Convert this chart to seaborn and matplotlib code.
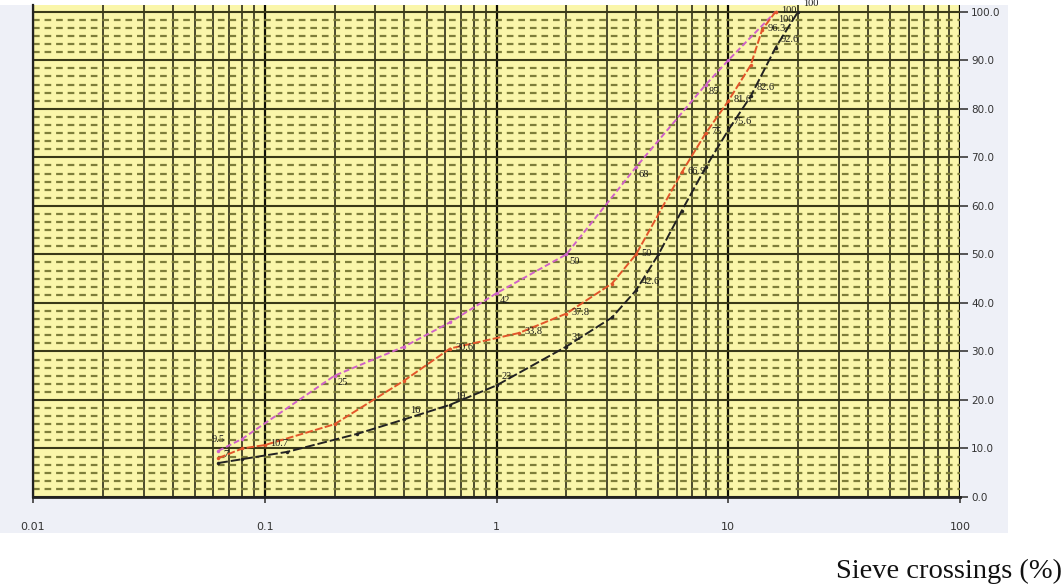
import numpy as np
import pandas as pd
import matplotlib
matplotlib.use("Agg")
import matplotlib.pyplot as plt
import seaborn as sns
from matplotlib.patches import Rectangle
from matplotlib.ticker import FixedLocator, NullFormatter, LogLocator

# Grain-size distribution: sieve opening (mm) vs. percent passing
sieve_pink = [0.063, 0.08, 0.2, 0.4, 0.63, 1.0, 2.0, 4.0, 8.0, 10.0, 16.0]
pass_pink = [9.5, 12.0, 25.0, 31.0, 36.0, 42.0, 50.0, 68.0, 85.0, 90.0, 100.0]
labeled_pink = [0.063, 0.2, 1.0, 2.0, 4.0, 8.0, 16.0]

sieve_orange = [0.063, 0.08, 0.1, 0.2, 0.4, 0.63, 1.25, 2.0, 3.15, 4.0, 6.3, 8.0, 10.0, 12.5, 14.0, 16.0]
pass_orange = [8.0, 10.0, 10.7, 15.0, 24.0, 30.6, 33.8, 37.8, 44.0, 50.0, 66.9, 75.0, 81.6, 89.0, 96.3, 100.0]
labeled_orange = [0.1, 0.63, 1.25, 2.0, 4.0, 6.3, 8.0, 10.0, 14.0, 16.0]

sieve_black = [0.063, 0.08, 0.125, 0.25, 0.4, 0.63, 1.0, 2.0, 3.15, 4.0, 5.0, 6.3, 8.0, 10.0, 12.5, 16.0, 20.0]
pass_black = [7.0, 7.8, 9.3, 13.0, 16.0, 19.0, 23.0, 31.0, 37.0, 42.6, 50.0, 59.0, 68.0, 75.6, 82.6, 92.6, 100.0]
labeled_black = [0.063, 0.4, 0.63, 1.0, 2.0, 4.0, 10.0, 12.5, 16.0, 20.0]

x_ticks = [0.01, 0.1, 1, 10, 100]
x_tick_labels = ["0.01", "0.1", "1", "10", "100"]
y_ticks = list(range(0, 101, 10))

df = pd.concat([
    pd.DataFrame({"sieve": sieve_pink, "passing": pass_pink, "sample": "A"}),
    pd.DataFrame({"sieve": sieve_orange, "passing": pass_orange, "sample": "B"}),
    pd.DataFrame({"sieve": sieve_black, "passing": pass_black, "sample": "C"}),
], ignore_index=True)

palette = {"A": "#d062c8", "B": "#e2552a", "C": "#222222"}

sns.set_theme(style="white")
plt.rcParams["font.family"] = ["DejaVu Sans"]

W, H = 1064, 587
fig = plt.figure(figsize=(W / 100, H / 100), dpi=100)
fig.patch.set_facecolor("white")
fig.patches.append(Rectangle((0, 1 - 533 / H), 1008 / W, (533 - 5) / H,
                             transform=fig.transFigure, facecolor="#eef0f7",
                             edgecolor="none", zorder=-10))

ax = fig.add_axes([33 / W, 1 - 497 / H, (960 - 33) / W, (497 - 5) / H])
ax.set_zorder(5)
ax.set_facecolor("#faf6aa")
ax.set_xscale("log")
ax.set_xlim(0.01, 100)
ax.set_ylim(0, 101.4)

# dense graph-paper style grid
ax.yaxis.set_minor_locator(FixedLocator([v for v in np.arange(0, 101.4, 10 / 6)
                                         if abs(v / 10 - round(v / 10)) > 1e-6]))
ax.grid(which="minor", axis="y", color="#7e7e3a", lw=1.6, linestyle=(0, (3.0, 2.2)), zorder=0.5)
ax.grid(which="major", axis="y", color="#3a3a18", lw=1.5, zorder=0.6)
ax.xaxis.set_minor_locator(LogLocator(base=10, subs=np.arange(2, 10)))
ax.xaxis.set_minor_formatter(NullFormatter())
ax.grid(which="minor", axis="x", color="#1c1c0c", lw=1.1, zorder=0.6)
ax.grid(which="major", axis="x", color="#0e0e06", lw=1.6, zorder=0.6)
ax.set_axisbelow(True)

sns.lineplot(data=df, x="sieve", y="passing", hue="sample", palette=palette,
             estimator=None, sort=True, legend=False, lw=1.4,
             marker="o", markersize=2.5, markeredgewidth=0, ax=ax, zorder=3)
for line, ls in zip(ax.get_lines(), [(0, (3, 1.5)), (0, (4, 1.2)), (0, (5, 1.5))]):
    line.set_linestyle(ls)

# value labels beside selected points of each curve
series = [(sieve_pink, pass_pink, labeled_pink, (2, -2, "left", "top")),
          (sieve_orange, pass_orange, labeled_orange, (4, 1, "left", "center")),
          (sieve_black, pass_black, labeled_black, (4, 3, "left", "bottom"))]
for k, (xs, ys, keep, (dx, dy, ha, va)) in enumerate(series):
    for i, (x, y) in enumerate(zip(xs, ys)):
        if x not in keep:
            continue
        ox, oy, oha, ova = dx, dy, ha, va
        if k == 0 and i == 0:
            # the three curves start close together: lift this one above
            ox, oy, oha, ova = 0, 5, "center", "bottom"
        ax.annotate(f"{y:g}", (x, y), xytext=(ox, oy), textcoords="offset points",
                    fontsize=7.5, color="#1a1a1a", family="Liberation Serif",
                    ha=oha, va=ova, zorder=4, annotation_clip=False)

ax.set_xticks(x_ticks)
ax.set_xticklabels(x_tick_labels)
ax.set_yticks(y_ticks)
ax.set_yticklabels([f"{v:.1f}" for v in y_ticks])
ax.yaxis.tick_right()
ax.tick_params(axis="y", which="major", length=6, width=1.2, color="#3a3a3a",
               labelsize=7.5, labelcolor="#333333", pad=2, right=True, left=False)
ax.tick_params(axis="y", which="minor", length=0)
ax.tick_params(axis="x", which="major", length=4, width=1.2, color="#3a3a3a",
               labelsize=8, labelcolor="#333333", pad=14, bottom=True)
ax.tick_params(axis="x", which="minor", length=0)
ax.set_xlabel("")
ax.set_ylabel("")
for side in ["top", "right"]:
    ax.spines[side].set_visible(False)
ax.spines["left"].set_color("#222222")
ax.spines["left"].set_linewidth(1.6)
ax.spines["bottom"].set_color("#222222")
ax.spines["bottom"].set_linewidth(2.0)

fig.text(1062 / W, 1 - 578 / H, "Sieve crossings (%)", ha="right", va="baseline",
         fontsize=20.5, family="Liberation Serif", color="#111111")

fig.savefig("out.png", dpi=100, facecolor=fig.get_facecolor())
